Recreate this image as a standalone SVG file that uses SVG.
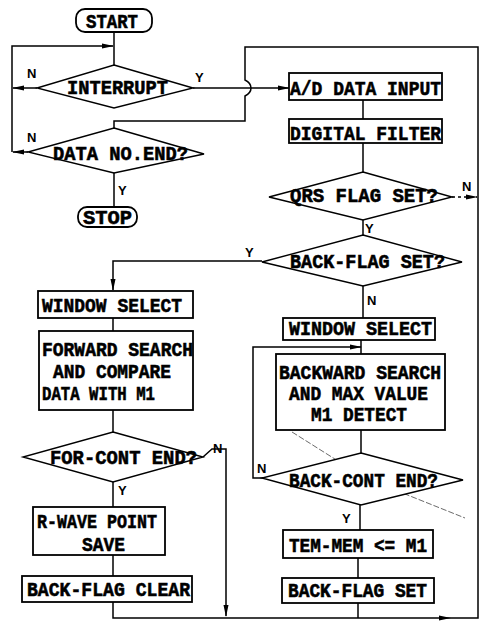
<svg xmlns="http://www.w3.org/2000/svg" width="482" height="627" viewBox="0 0 482 627">
<defs>
<marker id="ah" markerWidth="12" markerHeight="6" refX="11" refY="3" orient="auto" markerUnits="userSpaceOnUse">
<path d="M0,0.5 L12,3 L0,5.5 Z" fill="#000"/>
</marker>
<style>
.box{fill:#fff;stroke:#000;stroke-width:1.8}
.dia{fill:#fff;stroke:#000;stroke-width:1.4}
.t{font-family:"Liberation Mono","DejaVu Sans Mono",monospace;font-weight:bold;font-size:21px;fill:#000;stroke:#000;stroke-width:0.6}
.lb{font-family:"Liberation Sans","DejaVu Sans",sans-serif;font-weight:bold;font-size:13px;fill:#000}
.c{fill:none;stroke:#000;stroke-width:1.5}
</style>
</defs>
<rect width="482" height="627" fill="#fff"/>

<g id="connectors">
<path class="c" d="M114,32 V65"/>
<path class="c" d="M37,88 H13" marker-end="url(#ah)"/>
<path class="c" d="M28,152 H13" marker-end="url(#ah)"/>
<path class="c" d="M12,152 V46 H113" marker-end="url(#ah)"/>
<path class="c" d="M193,88 H289" marker-end="url(#ah)"/>
<path class="c" d="M450,618 H478 V47 H245 V80 Q251,83 251,88 Q251,93 245,96 V121 H114 V128"/>
<path class="c" d="M113,602 V618 H450" marker-end="url(#ah)"/>
<path class="c" d="M452,197 H477" stroke-dasharray="3,3" marker-end="url(#ah)"/>
<path class="c" d="M114,173 V207"/>
<path class="c" d="M363,100 V119"/>
<path class="c" d="M363,143 V172"/>
<path class="c" d="M363,220 V235"/>
<path class="c" d="M262,261 H113 V290" marker-end="url(#ah)"/>
<path class="c" d="M363,286 V318"/>
<path class="c" d="M361,340 V354"/>
<path class="c" d="M263,478 H253 V347 H361" marker-end="url(#ah)"/>
<path class="c" d="M361,430 V453"/>
<path class="c" d="M360,505 V530"/>
<path class="c" d="M358,558 V578"/>
<path class="c" d="M358,603 V618"/>
<path class="c" d="M113,318 V331"/>
<path class="c" d="M113,410 V432"/>
<path class="c" d="M113,482 V507"/>
<path class="c" d="M113,555 V576"/>
<path class="c" d="M203,457 L212,449 H226 V616" marker-end="url(#ah)"/>
<path d="M292,432 L365,478 L465,518" fill="none" stroke="#444" stroke-width="0.8" stroke-dasharray="6,2"/>
</g>

<g id="start">
<rect class="box" x="76" y="9" width="76" height="23" rx="9"/>
<text class="t" x="86" y="28" textLength="52" lengthAdjust="spacingAndGlyphs">START</text>
</g>

<g id="interrupt">
<polygon class="dia" points="114,65 193,88 114,108 37,88"/>
<text class="t" x="67" y="94" textLength="101" lengthAdjust="spacingAndGlyphs">INTERRUPT</text>
</g>

<g id="data-no-end">
<polygon class="dia" points="114,128 204,154 114,173 28,152"/>
<text class="t" x="53" y="160" textLength="135" lengthAdjust="spacingAndGlyphs">DATA NO.END?</text>
</g>

<g id="stop">
<rect class="box" x="78" y="207" width="59" height="20" rx="9"/>
<text class="t" x="83" y="224" textLength="49" lengthAdjust="spacingAndGlyphs">STOP</text>
</g>

<g id="ad-input">
<rect class="box" x="289" y="73" width="153" height="27"/>
<text class="t" x="290" y="95" textLength="151" lengthAdjust="spacingAndGlyphs">A/D DATA INPUT</text>
</g>

<g id="digital-filter">
<rect class="box" x="289" y="119" width="153" height="24"/>
<text class="t" x="290" y="140" textLength="151" lengthAdjust="spacingAndGlyphs">DIGITAL FILTER</text>
</g>

<g id="qrs-flag">
<polygon class="dia" points="363,172 452,197 363,220 269,197"/>
<text class="t" x="290" y="202" textLength="148" lengthAdjust="spacingAndGlyphs">QRS FLAG SET?</text>
</g>

<g id="back-flag-q">
<polygon class="dia" points="363,235 462,262 363,286 262,262"/>
<text class="t" x="290" y="268" textLength="155" lengthAdjust="spacingAndGlyphs">BACK-FLAG SET?</text>
</g>

<g id="window-select-r">
<rect class="box" x="283" y="318" width="152" height="22"/>
<text class="t" x="289" y="335" textLength="143" lengthAdjust="spacingAndGlyphs">WINDOW SELECT</text>
</g>

<g id="backward-search">
<rect class="box" x="276" y="354" width="169" height="76"/>
<text class="t" x="279" y="379" textLength="162" lengthAdjust="spacingAndGlyphs">BACKWARD SEARCH</text>
<text class="t" x="289" y="400" textLength="139" lengthAdjust="spacingAndGlyphs">AND MAX VALUE</text>
<text class="t" x="311" y="421" textLength="96" lengthAdjust="spacingAndGlyphs">M1 DETECT</text>
</g>

<g id="back-cont-end">
<polygon class="dia" points="361,453 463,480 361,505 262,478"/>
<text class="t" x="289" y="487" textLength="149" lengthAdjust="spacingAndGlyphs">BACK-CONT END?</text>
</g>

<g id="tem-mem">
<rect class="box" x="283" y="530" width="150" height="28"/>
<text class="t" x="289" y="552" textLength="138" lengthAdjust="spacingAndGlyphs">TEM-MEM &lt;= M1</text>
</g>

<g id="back-flag-set">
<rect class="box" x="282" y="578" width="152" height="25"/>
<text class="t" x="288" y="597" textLength="139" lengthAdjust="spacingAndGlyphs">BACK-FLAG SET</text>
</g>

<g id="window-select-l">
<rect class="box" x="38" y="291" width="155" height="27"/>
<text class="t" x="42" y="312" textLength="140" lengthAdjust="spacingAndGlyphs">WINDOW SELECT</text>
</g>

<g id="forward-search">
<rect class="box" x="39" y="331" width="154" height="79"/>
<text class="t" x="42" y="356" textLength="151" lengthAdjust="spacingAndGlyphs">FORWARD SEARCH</text>
<text class="t" x="53" y="378" textLength="118" lengthAdjust="spacingAndGlyphs">AND COMPARE</text>
<text class="t" x="42" y="400" textLength="113" lengthAdjust="spacingAndGlyphs">DATA WITH M1</text>
</g>

<g id="for-cont-end">
<polygon class="dia" points="113,432 203,457 113,482 23,457"/>
<text class="t" x="50" y="464" textLength="147" lengthAdjust="spacingAndGlyphs">FOR-CONT END?</text>
</g>

<g id="r-wave">
<rect class="box" x="33" y="507" width="132" height="48"/>
<text class="t" x="37" y="528" textLength="120" lengthAdjust="spacingAndGlyphs">R-WAVE POINT</text>
<text class="t" x="82" y="551" textLength="43" lengthAdjust="spacingAndGlyphs">SAVE</text>
</g>

<g id="back-flag-clear">
<rect class="box" x="22" y="576" width="170" height="26"/>
<text class="t" x="27" y="596" textLength="163" lengthAdjust="spacingAndGlyphs">BACK-FLAG CLEAR</text>
</g>

<g id="labels">
<text class="lb" x="27" y="78">N</text>
<text class="lb" x="195" y="82">Y</text>
<text class="lb" x="27" y="142">N</text>
<text class="lb" x="118" y="195">Y</text>
<text class="lb" x="462" y="191">N</text>
<text class="lb" x="365" y="233">Y</text>
<text class="lb" x="245" y="257">Y</text>
<text class="lb" x="367" y="305">N</text>
<text class="lb" x="257" y="473">N</text>
<text class="lb" x="342" y="523">Y</text>
<text class="lb" x="213" y="453">N</text>
<text class="lb" x="118" y="495">Y</text>
</g>
</svg>
